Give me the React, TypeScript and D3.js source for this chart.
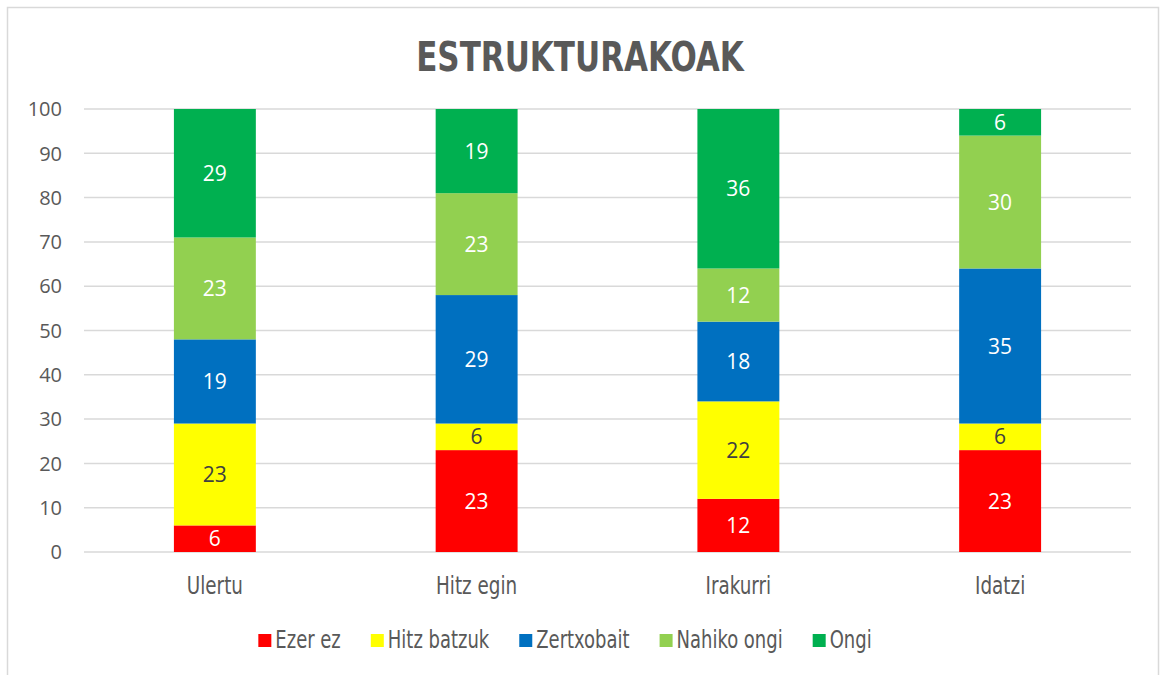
import React, { useEffect, useRef } from "react";
import * as d3 from "d3";

const categories = ["Ulertu", "Hitz egin", "Irakurri", "Idatzi"];
const seriesNames = ["Ezer ez", "Hitz batzuk", "Zertxobait", "Nahiko ongi", "Ongi"];
const ezerEz = [6, 23, 12, 23];
const hitzBatzuk = [23, 6, 22, 6];
const zertxobait = [19, 29, 18, 35];
const nahikoOngi = [23, 23, 12, 30];
const ongi = [29, 19, 36, 6];
const seriesColors = ["#FF0000", "#FFFF00", "#0070C0", "#92D050", "#00B050"];
const labelColors = ["#FFFFFF", "#404040", "#FFFFFF", "#FFFFFF", "#FFFFFF"];
const yTicks = [0, 10, 20, 30, 40, 50, 60, 70, 80, 90, 100];
const title = "ESTRUKTURAKOAK";

const W = 1160;
const H = 675;
const numFont = "'Open Sans', 'Noto Sans', sans-serif";
const narrowFont = "'DejaVu Sans Condensed', 'Liberation Sans Narrow', 'Liberation Sans', sans-serif";

export default function App() {
  const ref = useRef<SVGSVGElement | null>(null);

  useEffect(() => {
    const svg = d3.select(ref.current);
    svg.selectAll("*").remove();

    const values = [ezerEz, hitzBatzuk, zertxobait, nahikoOngi, ongi];
    const rows = categories.map((c, i) => {
      const r: any = { cat: c };
      seriesNames.forEach((s, k) => (r[s] = values[k][i]));
      return r;
    });
    const stacked = d3.stack().keys(seriesNames)(rows);

    const left = 84, right = 1131, top = 109, bottom = 552;
    const x = d3.scaleBand().domain(categories).range([left, right]).paddingInner(0.687).paddingOuter(0.3435);
    const y = d3.scaleLinear().domain([0, 100]).range([bottom, top]);

    // border
    svg.append("rect").attr("x", 7.5).attr("y", 7.5).attr("width", 1151).attr("height", 675)
      .attr("fill", "#FFFFFF").attr("stroke", "#D9D9D9").attr("stroke-width", 1.5);

    // title
    svg.append("text").attr("transform", "translate(580,71) scale(0.84,1)").attr("text-anchor", "middle")
      .attr("font-family", narrowFont).attr("font-weight", "bold").attr("font-size", 41)
      .attr("fill", "#595959").text(title);

    // gridlines
    svg.append("g").selectAll("line").data(yTicks).join("line")
      .attr("x1", left).attr("x2", right)
      .attr("y1", (d) => y(d)).attr("y2", (d) => y(d))
      .attr("stroke", "#D9D9D9").attr("stroke-width", 1.5);

    // y labels
    svg.append("g").selectAll("text").data(yTicks).join("text")
      .attr("x", 62).attr("y", (d) => y(d)).attr("dy", "0.36em").attr("text-anchor", "end")
      .attr("font-family", numFont).attr("font-size", 20).attr("fill", "#595959")
      .text((d) => String(d));

    // bars
    const g = svg.append("g");
    stacked.forEach((layer, k) => {
      g.append("g").selectAll("rect").data(layer).join("rect")
        .attr("x", (d: any) => x(d.data.cat) as number)
        .attr("width", x.bandwidth())
        .attr("y", (d: any) => y(d[1]))
        .attr("height", (d: any) => y(d[0]) - y(d[1]))
        .attr("fill", seriesColors[k]);
    });
    stacked.forEach((layer, k) => {
      g.append("g").selectAll("text").data(layer).join("text")
        .attr("x", (d: any) => (x(d.data.cat) as number) + x.bandwidth() / 2)
        .attr("y", (d: any) => (y(d[0]) + y(d[1])) / 2)
        .attr("dy", "0.36em").attr("text-anchor", "middle")
        .attr("font-family", numFont).attr("font-size", 21).attr("fill", labelColors[k])
        .text((d: any) => String(d[1] - d[0]));
    });

    // category labels
    svg.append("g").selectAll("text").data(categories).join("text")
      .attr("transform", (d) => `translate(${(x(d) as number) + x.bandwidth() / 2},594) scale(0.85,1)`)
      .attr("text-anchor", "middle").attr("font-family", narrowFont).attr("font-size", 24)
      .attr("fill", "#595959").text((d) => d);

    // legend
    const sx = 0.8;
    const lg = svg.append("g");
    const items = seriesNames.map((s, k) => {
      const it = lg.append("g");
      it.append("rect").attr("width", 13).attr("height", 13).attr("y", 634).attr("fill", seriesColors[k]);
      const t = it.append("text").attr("transform", `translate(17,648) scale(${sx},1)`)
        .attr("font-family", narrowFont)
        .attr("font-size", 25).attr("fill", "#595959").text(s);
      const w = (t.node() as SVGTextElement).getComputedTextLength() * sx;
      return { it, w: 17 + w };
    });
    const gap = 30;
    const total = items.reduce((a, b) => a + b.w, 0) + gap * (items.length - 1);
    let cx = 565 - total / 2;
    items.forEach((o) => {
      o.it.attr("transform", `translate(${cx},0)`);
      cx += o.w + gap;
    });
  }, []);

  return (
    <svg ref={ref} width={W} height={H}
      style={{ position: "absolute", left: 0, top: 0, background: "#FFFFFF" }} />
  );
}
